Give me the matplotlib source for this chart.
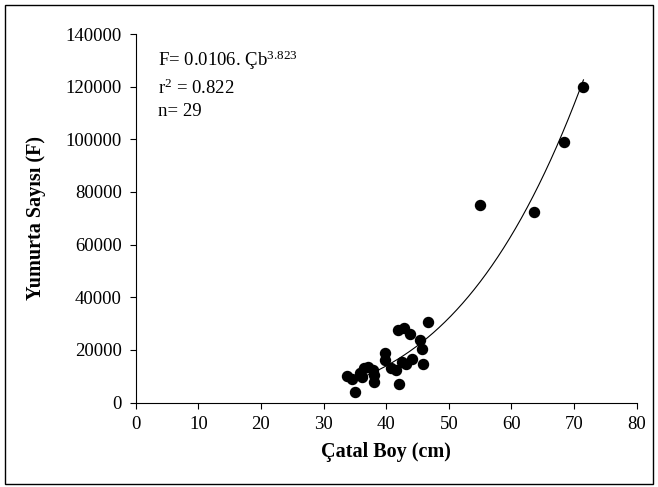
import numpy as np
import matplotlib
matplotlib.use("Agg")
import matplotlib.pyplot as plt
from matplotlib.patches import Rectangle

plt.rcParams['font.family'] = ['Liberation Serif', 'DejaVu Serif']
plt.rcParams['mathtext.fontset'] = 'custom'
plt.rcParams['mathtext.rm'] = 'Liberation Serif'
plt.rcParams['mathtext.it'] = 'Liberation Serif:italic'

# fork length (cm) vs fecundity
catal_boy = [33.8, 35.0, 34.6, 35.8, 36.5, 37.1, 37.9, 38.1, 39.8, 39.8,
             41.9, 42.8, 43.8, 46.6, 45.4, 45.7, 45.8, 44.1, 42.5, 43.2,
             40.8, 42.0, 36.2, 38.0, 41.5, 55.0, 63.6, 68.4, 71.5]
yumurta = [10100, 4100, 8800, 11100, 13000, 13600, 12300, 7900, 18700, 16100,
           27400, 28300, 26000, 30700, 23700, 20200, 14500, 16400, 15500, 14600,
           13100, 7000, 9800, 10500, 12500, 75000, 72400, 99100, 120000]

# power trendline, least squares in log space like the spreadsheet does
b_fit, ln_a = np.polyfit(np.log(catal_boy), np.log(yumurta), 1)
fit_x = np.linspace(34.2, 71.5, 200)
fit_y = np.exp(ln_a) * fit_x ** b_fit

x_ticks = np.arange(0, 81, 10)
y_ticks = np.arange(0, 140001, 20000)

fig = plt.figure(figsize=(6.58, 4.87), dpi=100)
ax = fig.add_axes([0.2062, 0.1735, 0.7614, 0.7565])

ax.plot(fit_x, fit_y, color='black', linewidth=0.8)
ax.scatter(catal_boy, yumurta, s=52, color='black', zorder=3)

ax.set_xlim(0, 80)
ax.set_ylim(0, 140000)
ax.set_xticks(x_ticks)
ax.set_yticks(y_ticks)
ax.tick_params(direction='out', length=4, width=0.8, labelsize=13.5, pad=6)
ax.spines['top'].set_visible(False)
ax.spines['right'].set_visible(False)
for s in ['left', 'bottom']:
    ax.spines[s].set_linewidth(0.8)

ax.set_xlabel("Çatal Boy (cm)", fontsize=14.5, fontweight='bold', labelpad=6)
ax.set_ylabel("Yumurta Sayısı (F)", fontsize=14.5, fontweight='bold', labelpad=14)

ax.text(3.6, 130100, r"F= 0.0106. Çb$^{\mathrm{3.823}}$", fontsize=13.5, va='center')
ax.text(3.6, 119500, r"r$^{\mathrm{2}}$ = 0.822", fontsize=13.5, va='center')
ax.text(3.6, 110400, "n= 29", fontsize=13.5, va='center')

fig.patches.append(Rectangle((5 / 658, 3 / 487), 648 / 658, 479 / 487,
                             transform=fig.transFigure, fill=False,
                             edgecolor='black', linewidth=1.0))

fig.savefig("out.png", dpi=100)
